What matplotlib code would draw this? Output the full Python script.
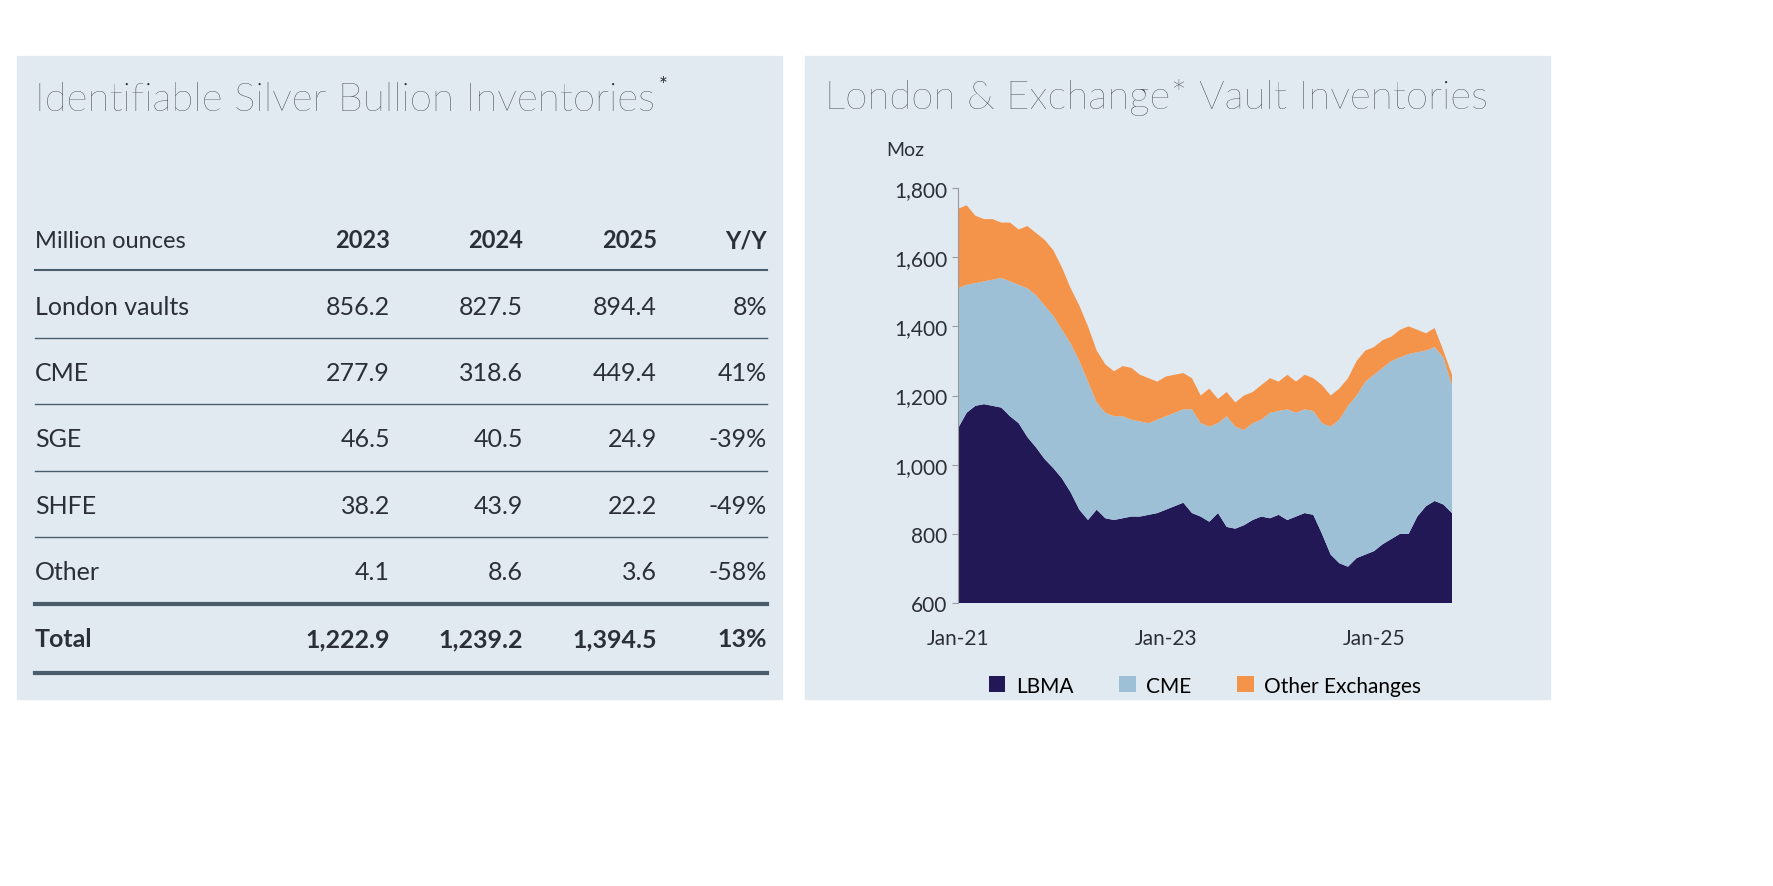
import numpy as np
import matplotlib.pyplot as plt
from matplotlib.patches import Rectangle

# Tabela da esquerda
colunas = ["2023", "2024", "2025", "Y/Y"]
linhas = ["London vaults", "CME", "SGE", "SHFE", "Other"]
valores = [
    ["856.2", "827.5", "894.4", "8%"],
    ["277.9", "318.6", "449.4", "41%"],
    ["46.5", "40.5", "24.9", "-39%"],
    ["38.2", "43.9", "22.2", "-49%"],
    ["4.1", "8.6", "3.6", "-58%"],
]
total = ["1,222.9", "1,239.2", "1,394.5", "13%"]

# Gráfico da direita: meses de Jan-21 a Oct-25, níveis acumulados (Moz)
meses = np.arange(58)
lbma = [1105, 1150, 1170, 1175, 1170, 1165, 1140, 1120, 1080, 1050, 1016, 990, 960, 920, 870, 840,
        870, 845, 840, 845, 850, 850, 855, 860, 870, 880, 890, 860, 850, 835, 860, 820,
        815, 825, 840, 850, 845, 855, 840, 850, 860, 855, 800, 740, 715, 705, 730, 740,
        750, 770, 785, 800, 800, 850, 880, 895, 885, 860]
topo_cme = [1510, 1520, 1525, 1530, 1535, 1540, 1530, 1520, 1510, 1490, 1460, 1430, 1390, 1350, 1300, 1240,
            1180, 1150, 1140, 1140, 1130, 1125, 1120, 1130, 1140, 1150, 1160, 1160, 1120, 1110, 1120, 1140,
            1110, 1100, 1120, 1130, 1150, 1155, 1160, 1150, 1160, 1155, 1120, 1110, 1130, 1170, 1200, 1240,
            1260, 1280, 1300, 1310, 1320, 1325, 1330, 1340, 1310, 1230]
topo_total = [1740, 1750, 1720, 1710, 1710, 1700, 1700, 1680, 1690, 1670, 1650, 1620, 1570, 1510, 1460, 1400,
              1330, 1290, 1270, 1285, 1280, 1260, 1250, 1240, 1255, 1260, 1265, 1250, 1200, 1220, 1190, 1210,
              1180, 1200, 1210, 1230, 1250, 1240, 1260, 1240, 1260, 1250, 1230, 1200, 1220, 1250, 1300, 1330,
              1340, 1360, 1370, 1390, 1400, 1390, 1380, 1395, 1330, 1260]
cme = np.array(topo_cme) - np.array(lbma)
outras = np.array(topo_total) - np.array(topo_cme)

W, H = 1774, 887
plt.rcParams['font.family'] = ['Lato', 'DejaVu Sans']
fig = plt.figure(figsize=(17.74, 8.87), dpi=100)

def fx(x): return x / W
def fy(y): return 1 - y / H

painel = "#e1eaf1"
fig.patches.append(Rectangle((fx(17), fy(700)), fx(765), 643 / H, transform=fig.transFigure, color=painel, zorder=-10))
fig.patches.append(Rectangle((fx(805), fy(700)), fx(745), 643 / H, transform=fig.transFigure, color=painel, zorder=-10))

texto = "#2b2f36"
titulo = fig.text(fx(35), fy(100), "Identifiable Silver Bullion Inventories", fontsize=29, color=texto,
                  fontweight="light", va="center")
fig.canvas.draw()
fim = titulo.get_window_extent().x1 / W
fig.text(fim + 0.002, fy(86), "*", fontsize=15, color=texto, va="center")

xs = [390, 523, 657, 767]
fig.text(fx(35), fy(241), "Million ounces", fontsize=17, color=texto, va="center")
for x, c in zip(xs, colunas):
    fig.text(fx(x), fy(241), c, fontsize=17, color=texto, va="center", ha="right", fontweight="bold")
ys = [308, 374, 440, 507, 573]
for y, nome, vals in zip(ys, linhas, valores):
    fig.text(fx(35), fy(y), nome, fontsize=18, color=texto, va="center")
    for x, v in zip(xs, vals):
        fig.text(fx(x), fy(y), v, fontsize=18, color=texto, va="center", ha="right")
fig.text(fx(35), fy(640), "Total", fontsize=18, color=texto, va="center", fontweight="bold")
for x, v in zip(xs, total):
    fig.text(fx(x), fy(640), v, fontsize=18, color=texto, va="center", ha="right", fontweight="bold")

linha = "#4a5d6c"
for y, lw in [(271, 1.5), (339, 1), (405, 1), (472, 1), (538, 1), (605, 3), (674, 3)]:
    fig.add_artist(plt.Line2D([fx(35), fx(767)], [fy(y), fy(y)], color=linha, lw=lw, transform=fig.transFigure))

# Gráfico
fig.text(fx(825), fy(97), "London & Exchange* Vault Inventories", fontsize=29, color=texto,
         fontweight="light", va="center")
fig.text(fx(905), fy(151), "Moz", fontsize=14, color=texto, ha="center", va="center")

ax = fig.add_axes([fx(958), fy(604), 494 / W, 415 / H])
ax.set_facecolor("none")
ax.stackplot(meses, lbma, cme, outras, colors=["#231856", "#9ec0d7", "#f4944b"],
             labels=["LBMA", "CME", "Other Exchanges"], lw=0)
ax.set_xlim(0, 57)
ax.set_ylim(600, 1800)
ax.set_yticks(range(600, 1801, 200))
ax.set_yticklabels([f"{v:,}" for v in range(600, 1801, 200)])
ax.set_xticks([0, 24, 48])
ax.set_xticklabels(["Jan-21", "Jan-23", "Jan-25"])
for s in ["top", "right", "bottom"]:
    ax.spines[s].set_visible(False)
ax.spines["left"].set_color("#9a9a9a")
ax.tick_params(axis="y", labelsize=15, colors="#9a9a9a", labelcolor=texto, length=4)
ax.tick_params(axis="x", labelsize=15, labelcolor=texto, length=0, pad=18)
ax.legend(loc="upper center", bbox_to_anchor=(0.5, -0.13), ncol=3, frameon=False, fontsize=15,
          handlelength=0.8, handleheight=0.8, columnspacing=2.2, handletextpad=0.5)

fig.savefig("out.png", dpi=100)
